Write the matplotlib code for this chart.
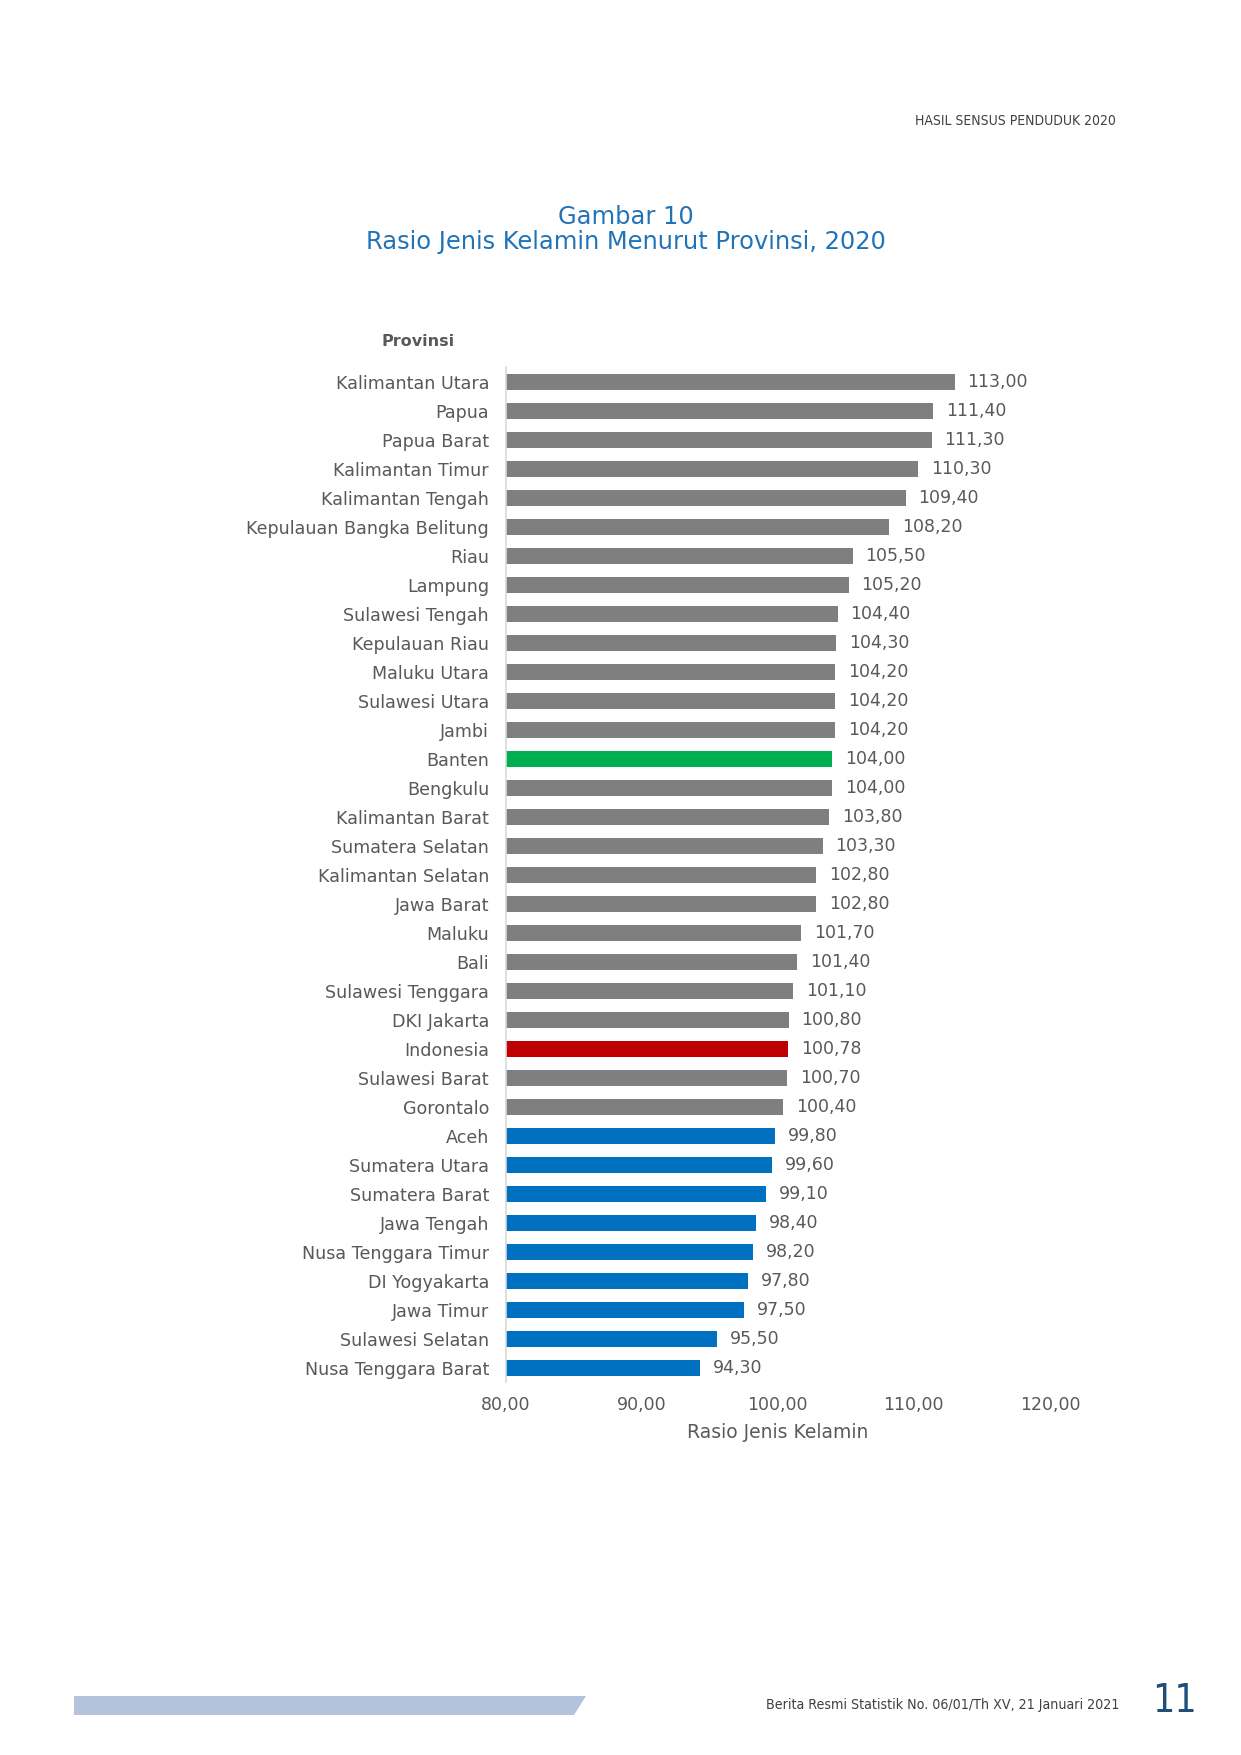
import matplotlib.pyplot as plt
from matplotlib.patches import Polygon

# Data
provinsi = ['Kalimantan Utara', 'Papua', 'Papua Barat', 'Kalimantan Timur', 'Kalimantan Tengah',
            'Kepulauan Bangka Belitung', 'Riau', 'Lampung', 'Sulawesi Tengah', 'Kepulauan Riau',
            'Maluku Utara', 'Sulawesi Utara', 'Jambi', 'Banten', 'Bengkulu', 'Kalimantan Barat',
            'Sumatera Selatan', 'Kalimantan Selatan', 'Jawa Barat', 'Maluku', 'Bali',
            'Sulawesi Tenggara', 'DKI Jakarta', 'Indonesia', 'Sulawesi Barat', 'Gorontalo', 'Aceh',
            'Sumatera Utara', 'Sumatera Barat', 'Jawa Tengah', 'Nusa Tenggara Timur', 'DI Yogyakarta',
            'Jawa Timur', 'Sulawesi Selatan', 'Nusa Tenggara Barat']
rasio = [113.00, 111.40, 111.30, 110.30, 109.40, 108.20, 105.50, 105.20, 104.40, 104.30,
         104.20, 104.20, 104.20, 104.00, 104.00, 103.80, 103.30, 102.80, 102.80, 101.70,
         101.40, 101.10, 100.80, 100.78, 100.70, 100.40, 99.80, 99.60, 99.10, 98.40,
         98.20, 97.80, 97.50, 95.50, 94.30]
x_ticks = [80, 90, 100, 110, 120]

GRAY = '#7F7F7F'
GREEN = '#00B050'
RED = '#C00000'
BLUE = '#0070C0'
TEXT = '#595959'


def warna(nama, nilai):
    if nama == 'Banten':
        return GREEN
    if nama == 'Indonesia':
        return RED
    return GRAY if nilai >= 100 else BLUE


colors = [warna(n, v) for n, v in zip(provinsi, rasio)]

fig = plt.figure(figsize=(12.41, 17.55), dpi=100)
ax = fig.add_axes([0.4075, 0.2123, 0.4385, 0.5783])

y = list(range(len(provinsi)))
ax.barh(y, [v - 80 for v in rasio], left=80, height=0.57, color=colors)
ax.set_ylim(len(provinsi) - 0.5, -0.5)
ax.set_xlim(80, 120)

for yi, v in zip(y, rasio):
    ax.text(v + 0.95, yi, f'{v:.2f}'.replace('.', ','), va='center', ha='left',
            fontsize=12.5, color=TEXT)

ax.set_yticks(y)
ax.set_yticklabels(provinsi, fontsize=12.6, color=TEXT)
ax.set_xticks(x_ticks)
ax.set_xticklabels([f'{t:.2f}'.replace('.', ',') for t in x_ticks], fontsize=12.5, color=TEXT)
ax.tick_params(axis='both', length=0)
ax.tick_params(axis='y', pad=12)
ax.tick_params(axis='x', pad=10)
ax.set_xlabel('Rasio Jenis Kelamin', fontsize=13.5, color=TEXT, labelpad=6)

for s in ['top', 'right', 'bottom']:
    ax.spines[s].set_visible(False)
ax.spines['left'].set_color('#D9D9D9')
ax.spines['left'].set_linewidth(1.2)

# judul
fig.text(0.5045, 1 - 217 / 1755, 'Gambar 10', ha='center', va='center',
         fontsize=17.4, color='#2173B8')
fig.text(0.5045, 1 - 242 / 1755, 'Rasio Jenis Kelamin Menurut Provinsi, 2020', ha='center',
         va='center', fontsize=17.4, color='#2173B8')
fig.text(418 / 1241, 1 - 342 / 1755, 'Provinsi', ha='center', va='center', fontsize=11.5,
         fontweight='bold', color=TEXT)

# header dan footer halaman
fig.text(1116 / 1241, 1 - 121 / 1755, 'HASIL SENSUS PENDUDUK 2020', ha='right', va='center',
         fontsize=10, color='#404040', fontstretch='condensed')
fig.text(1119 / 1241, 1 - 1705 / 1755, 'Berita Resmi Statistik No. 06/01/Th XV, 21 Januari 2021',
         ha='right', va='center', fontsize=10.2, color='#404040', fontstretch='condensed')
fig.text(1175 / 1241, 1 - 1701 / 1755, '11', ha='center', va='center', fontsize=28,
         color='#1F4E79', fontstretch='condensed')
pita = Polygon([(74 / 1241, 1 - 1696 / 1755), (586 / 1241, 1 - 1696 / 1755),
                (574 / 1241, 1 - 1715 / 1755), (74 / 1241, 1 - 1715 / 1755)],
               closed=True, transform=fig.transFigure, facecolor='#B4C2DC', edgecolor='none')
fig.patches.append(pita)

fig.savefig('out.png', dpi=100, facecolor='white')
